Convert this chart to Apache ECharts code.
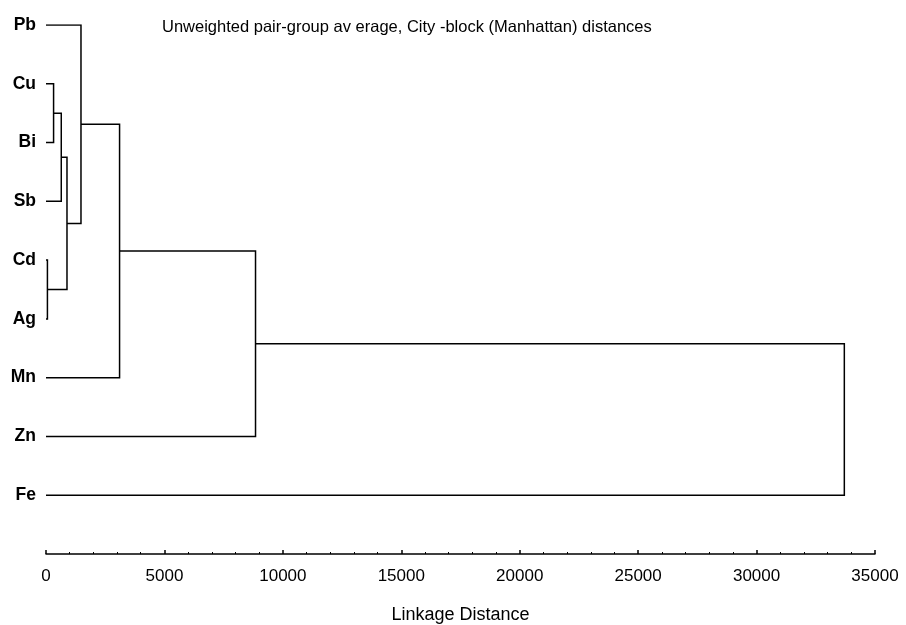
<!DOCTYPE html>
<html>
<head>
<meta charset="utf-8">
<script src="https://cdn.jsdelivr.net/npm/echarts@6/dist/echarts.min.js"></script>
<style>
html, body { margin: 0; padding: 0; background: #fff; }
#chart { width: 906px; height: 625px; }
</style>
</head>
<body>
<div id="chart"></div>
<script>
// leaves, top to bottom
var leaves = ['Pb', 'Cu', 'Bi', 'Sb', 'Cd', 'Ag', 'Mn', 'Zn', 'Fe'];
// linkage: new node = 9 + row index, joins childA and childB at height
var childA = [1, 9, 4, 10, 0, 13, 14, 15];
var childB = [2, 3, 5, 11, 12, 6, 7, 8];
var heights = [320, 645, 60, 886, 1477, 3106, 8846, 33705];
var xTicks = [0, 5000, 10000, 15000, 20000, 25000, 30000, 35000];

// node position (y) and height (x)
var nodeY = [], nodeH = [];
for (var i = 0; i < leaves.length; i++) { nodeY[i] = i; nodeH[i] = 0; }
var links = [];
for (var k = 0; k < heights.length; k++) {
    var a = childA[k], b = childB[k], h = heights[k];
    var id = leaves.length + k;
    nodeY[id] = (nodeY[a] + nodeY[b]) / 2;
    nodeH[id] = h;
    links.push({
        coords: [[nodeH[a], nodeY[a]], [h, nodeY[a]], [h, nodeY[b]], [nodeH[b], nodeY[b]]]
    });
}

var chart = echarts.init(document.getElementById('chart'));
var option = {
    animation: false,
    title: {
        text: 'Unweighted pair-group av erage, City -block (Manhattan) distances',
        left: 157,
        top: 14,
        textStyle: { fontFamily: 'Liberation Sans', fontSize: 16.5, fontWeight: 'normal', color: '#000' }
    },
    grid: { left: 46, right: 31, top: 25, bottom: 71, outerBoundsMode: 'none', containLabel: false },
    xAxis: {
        type: 'value',
        position: 'bottom',
        min: xTicks[0],
        max: xTicks[xTicks.length - 1],
        interval: 5000,
        name: 'Linkage Distance',
        nameLocation: 'middle',
        nameGap: 52,
        nameTextStyle: { fontFamily: 'Liberation Sans', fontSize: 18, color: '#000' },
        axisLine: { onZero: false, lineStyle: { color: '#000', width: 1.5 } },
        axisTick: { inside: true, length: 4, lineStyle: { color: '#000', width: 1.5 } },
        minorTick: { show: true, splitNumber: 5, length: 2, lineStyle: { color: '#000', width: 1 } },
        axisLabel: {
            margin: 14,
            fontFamily: 'Liberation Sans',
            fontSize: 17,
            color: '#000',
            formatter: function (v) { return String(v); }
        },
        splitLine: { show: false }
    },
    yAxis: {
        type: 'value',
        inverse: true,
        min: 0,
        max: 9,
        interval: 1,
        axisLine: { show: false },
        axisTick: { show: false },
        splitLine: { show: false },
        axisLabel: {
            margin: 10,
            padding: [4, 0, 0, 0],
            fontFamily: 'Liberation Sans',
            fontSize: 17.5,
            fontWeight: 'bold',
            color: '#000',
            formatter: function (v) { return leaves[v] || ''; }
        }
    },
    series: [{
        type: 'lines',
        coordinateSystem: 'cartesian2d',
        polyline: true,
        silent: true,
        lineStyle: { color: '#000', width: 1.5, opacity: 1 },
        data: links
    }]
};
chart.setOption(option);
</script>
</body>
</html>
